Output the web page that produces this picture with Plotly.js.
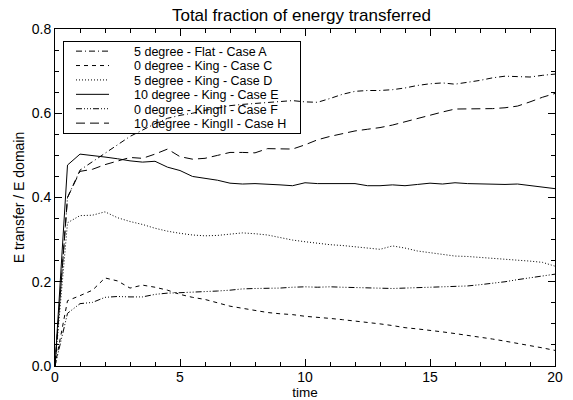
<!DOCTYPE html>
<html>
<head>
<meta charset="utf-8">
<script src="https://cdn.plot.ly/plotly-3.0.1.min.js"></script>
<style>html,body{margin:0;padding:0;background:#fff;}#chart{width:573px;height:400px;}</style>
</head>
<body>
<div id="chart"></div>
<script>
const time = [0,0.5,1,1.5,2,2.5,3,3.5,4,4.5,5,5.5,6,6.5,7,7.5,8,8.5,9,9.5,10,10.5,11,11.5,12,12.5,13,13.5,14,14.5,15,15.5,16,16.5,17,17.5,18,18.5,19,19.5,20];
const caseA = [0,0.40,0.465,0.485,0.505,0.525,0.545,0.56,0.575,0.588,0.595,0.60,0.607,0.612,0.618,0.621,0.623,0.626,0.628,0.630,0.627,0.626,0.635,0.645,0.652,0.654,0.654,0.656,0.660,0.666,0.670,0.672,0.669,0.673,0.678,0.684,0.688,0.687,0.686,0.690,0.693];
const caseC = [0,0.155,0.167,0.18,0.209,0.202,0.185,0.192,0.187,0.180,0.170,0.163,0.158,0.150,0.142,0.137,0.132,0.127,0.124,0.122,0.118,0.116,0.113,0.110,0.107,0.104,0.100,0.096,0.091,0.088,0.085,0.081,0.077,0.073,0.069,0.064,0.059,0.054,0.048,0.043,0.037];
const caseD = [0,0.34,0.357,0.358,0.366,0.352,0.343,0.336,0.327,0.320,0.315,0.311,0.309,0.310,0.313,0.316,0.314,0.311,0.305,0.299,0.295,0.291,0.288,0.286,0.283,0.280,0.277,0.285,0.280,0.273,0.269,0.265,0.261,0.260,0.258,0.256,0.254,0.252,0.249,0.246,0.237];
const caseE = [0,0.477,0.503,0.500,0.496,0.492,0.487,0.484,0.486,0.472,0.464,0.450,0.446,0.441,0.434,0.432,0.433,0.432,0.430,0.428,0.435,0.433,0.433,0.432,0.433,0.428,0.428,0.430,0.428,0.431,0.434,0.432,0.435,0.433,0.432,0.431,0.431,0.432,0.428,0.425,0.421];
const caseF = [0,0.125,0.148,0.151,0.163,0.165,0.164,0.164,0.170,0.173,0.174,0.175,0.176,0.178,0.180,0.183,0.184,0.184,0.185,0.187,0.188,0.187,0.188,0.187,0.186,0.185,0.184,0.184,0.185,0.186,0.186,0.187,0.188,0.190,0.193,0.196,0.200,0.205,0.209,0.214,0.218];
const caseH = [0,0.40,0.462,0.467,0.478,0.487,0.495,0.493,0.503,0.515,0.497,0.491,0.493,0.500,0.507,0.507,0.506,0.516,0.515,0.515,0.525,0.537,0.545,0.551,0.558,0.562,0.566,0.572,0.580,0.588,0.595,0.603,0.610,0.610,0.610,0.611,0.613,0.617,0.627,0.638,0.647];
const names = ["5 degree - Flat - Case A","0 degree - King - Case C","5 degree - King - Case D","10 degree - King - Case E","0 degree - KingII - Case F","10 degree - KingII - Case H"];
const series = [caseA, caseC, caseD, caseE, caseF, caseH];
const dashes = ["6px,3px,1px,3px","4px,4px","1px,2px","solid","6px,2px,1px,2px,1px,2px,1px,2px","9px,5px"];

const FONT = 'Liberation Sans, Arial, sans-serif';

const traces = series.map((s, i) => ({
  x: time, y: s, name: names[i], type: 'scatter', mode: 'lines',
  line: {color: '#000', width: 1, dash: dashes[i]}
}));

const axisCommon = {
  showgrid: false, zeroline: false, showline: true, linecolor: '#000', linewidth: 1,
  mirror: 'ticks', ticks: 'inside', tickcolor: '#000', ticklen: 7, tickwidth: 1,
  tickfont: {family: FONT, size: 14, color: '#000'}
};

const layout = {
  width: 573, height: 400,
  margin: {l: 55, r: 18, t: 29, b: 34},
  paper_bgcolor: '#fff', plot_bgcolor: '#fff',
  font: {family: FONT, size: 14, color: '#000'},
  title: {text: 'Total fraction of energy transferred', x: 0.526, xanchor: 'center',
          yref: 'container', y: 0.977, yanchor: 'top',
          font: {family: FONT, size: 17, color: '#000'}},
  xaxis: Object.assign({}, axisCommon, {
    range: [0, 20], tickvals: [0,5,10,15,20], ticktext: ['0','5','10','15','20'],
    ticklabelstandoff: -2,
    minor: {dtick: 1, ticklen: 4, ticks: 'inside', tickcolor: '#000'},
    title: {text: 'time', standoff: 1, font: {family: FONT, size: 13.5, color: '#000'}}
  }),
  yaxis: Object.assign({}, axisCommon, {
    range: [0, 0.8], tickvals: [0,0.2,0.4,0.6,0.8], ticktext: ['0.0','0.2','0.4','0.6','0.8'],
    minor: {dtick: 0.05, ticklen: 4, ticks: 'inside', tickcolor: '#000'},
    title: {text: 'E transfer / E domain', standoff: 3, font: {family: FONT, size: 14, color: '#000'}}
  }),
  showlegend: true,
  legend: {x: 0.016, y: 0.964, xanchor: 'left', yanchor: 'top', bgcolor: 'rgba(0,0,0,0)',
           bordercolor: '#000', borderwidth: 1,
           font: {family: FONT, size: 12.5, color: '#000'}}
};

Plotly.newPlot('chart', traces, layout, {displayModeBar: false, staticPlot: true}).then(gd => {
  // compact legend rows (IDL-style tight spacing)
  const leg = gd.querySelector('.legend');
  if (!leg) return;
  const sb = leg.querySelector('.scrollbox');
  if (sb) sb.removeAttribute('clip-path');
  leg.querySelectorAll('.traces').forEach((it, i) => {
    it.setAttribute('transform', 'translate(1,' + (10 + 14.4 * i) + ')');
    const t = it.querySelector('.legendtext');
    if (t) t.setAttribute('x', 70);
    it.querySelectorAll('.legendlines path').forEach(p => p.setAttribute('d', 'M12,0h33'));
  });
  const bg = leg.querySelector('rect.bg');
  if (bg) { bg.setAttribute('width', 237); bg.setAttribute('height', 92); }
});
</script>
</body>
</html>
